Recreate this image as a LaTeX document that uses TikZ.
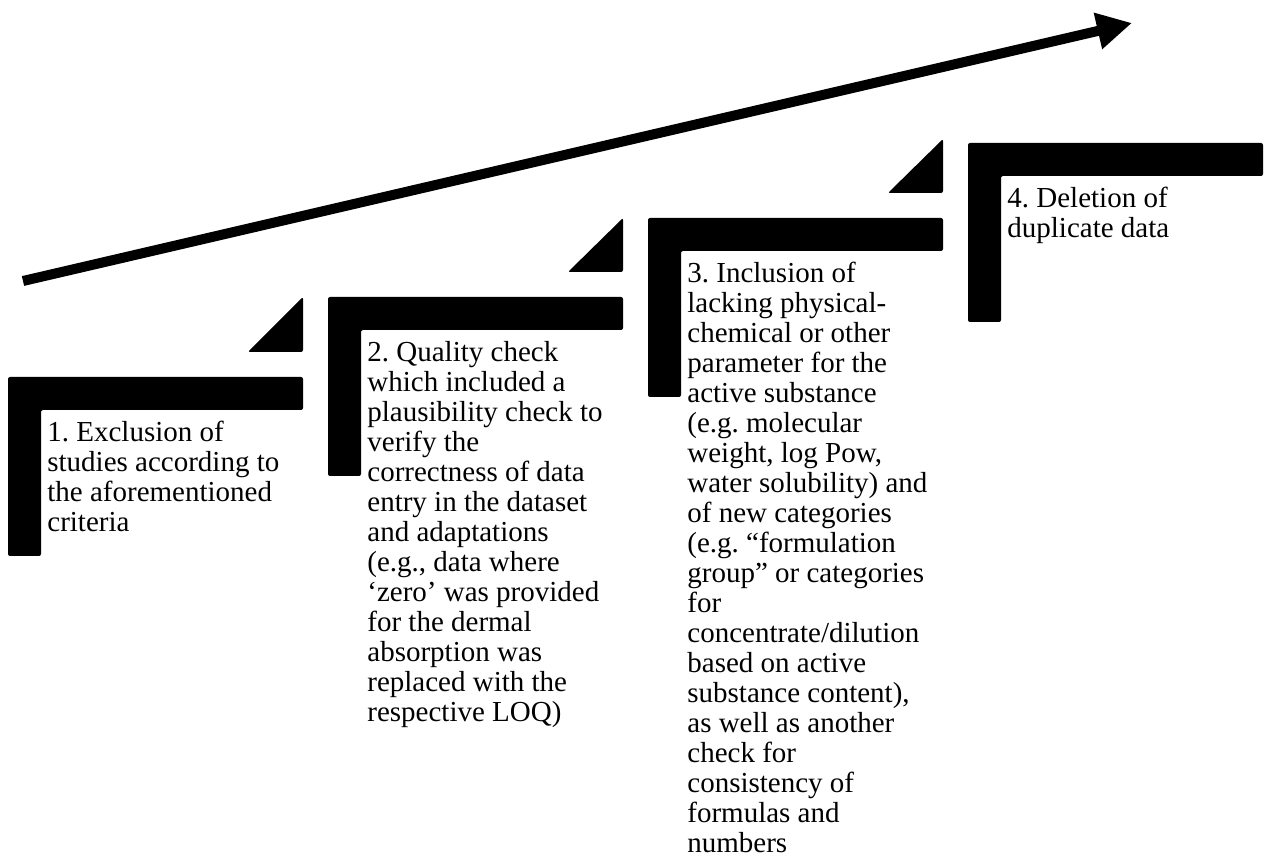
\documentclass[tikz,border=0pt]{standalone}
\usepackage{fontspec}
\setmainfont{Liberation Serif}
\usepackage{tikz}
\usetikzlibrary{calc,positioning,arrows.meta}
\frenchspacing

\begin{document}
\begin{tikzpicture}[x=0.5pt,y=-0.5pt,
		bar/.style={fill=black, rounded corners=1pt},
		wedge/.style={fill=black, rounded corners=1pt},
		steptext/.style={anchor=north west, inner sep=0pt, align=left, font=\fontsize{14.5pt}{15pt}\selectfont},
		progress/.style={line width=5pt, -{Triangle[length=17.5pt,width=17.5pt]}}]
	\useasboundingbox (0,0) rectangle (1266,861);

	% corners of the four steps
	\coordinate (stepone) at (8,377);
	\coordinate (steptwo) at (328,297);
	\coordinate (stepthree) at (648,218);
	\coordinate (stepfour) at (968,143);

	% big arrow
	\coordinate (tail) at (23,281);
	\coordinate (head) at (1132,23);
	\draw[progress] (tail) -- (head);

	% step 1
	\fill[bar] (stepone) -- ++(295,0) -- ++(0,33) -- ++(-262,0) -- ++(0,146) -- ++(-33,0) -- cycle;
	\fill[wedge] ([shift={(295,-80)}]stepone) -- ++(0,55) -- ++(-55,0) -- cycle;
	\node[steptext] (textone) at ([shift={(39,43)}]stepone) {\strut 1. Exclusion of\\studies according to\\the aforementioned\\criteria};

	% step 2
	\fill[bar] (steptwo) -- ++(295,0) -- ++(0,33) -- ++(-262,0) -- ++(0,146) -- ++(-33,0) -- cycle;
	\fill[wedge] ([shift={(295,-79)}]steptwo) -- ++(0,54) -- ++(-55,0) -- cycle;
	\node[steptext] (texttwo) at ([shift={(39,43)}]steptwo) {\strut 2. Quality check\\which included a\\plausibility check to\\verify the\\correctness of data\\entry in the dataset\\and adaptations\\(e.g., data where\\`zero' was provided\\for the dermal\\absorption was\\replaced with the\\respective LOQ)};

	% step 3
	\fill[bar] (stepthree) -- ++(295,0) -- ++(0,33) -- ++(-262,0) -- ++(0,146) -- ++(-33,0) -- cycle;
	\fill[wedge] ([shift={(295,-79)}]stepthree) -- ++(0,54) -- ++(-55,0) -- cycle;
	\node[steptext] (textthree) at ([shift={(39,43)}]stepthree) {\strut 3. Inclusion of\\lacking physical-\\chemical or other\\parameter for the\\active substance\\(e.g. molecular\\weight, log Pow,\\water solubility) and\\of new categories\\(e.g. ``formulation\\group'' or categories\\for\\concentrate/dilution\\based on active\\substance content),\\as well as another\\check for\\consistency of\\formulas and\\numbers};

	% step 4
	\fill[bar] (stepfour) -- ++(295,0) -- ++(0,33) -- ++(-262,0) -- ++(0,146) -- ++(-33,0) -- cycle;
	\node[steptext] (textfour) at ([shift={(39,43)}]stepfour) {\strut 4. Deletion of\\duplicate data};
\end{tikzpicture}
\end{document}
